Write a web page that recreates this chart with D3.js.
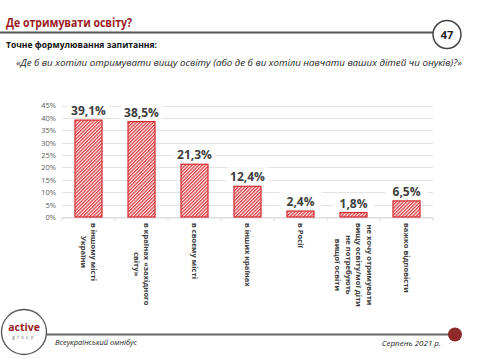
<!DOCTYPE html>
<html><head><meta charset="utf-8">
<script src="https://cdn.jsdelivr.net/npm/d3@7"></script>
<style>
body{margin:0;background:#fff;}
svg{display:block;font-family:"Open Sans","Noto Sans",sans-serif;}
</style></head>
<body><svg id="c" width="478" height="363"></svg>
<script>
const categories = [
  ["в іншому місті","України"],
  ["в країнах «західного","світу»"],
  ["в своєму місті"],
  ["в інших країнах"],
  ["в Росії"],
  ["не хочу отримувати","вищу освіту/мої діти","не потребують","вищої освіти"],
  ["важко відповісти"]
];
const values = [39.1, 38.5, 21.3, 12.4, 2.4, 1.8, 6.5];
const valueLabels = ["39,1%","38,5%","21,3%","12,4%","2,4%","1,8%","6,5%"];
const yTicks = [0,5,10,15,20,25,30,35,40,45];

const svg = d3.select("#c");
const dark = "#404040", red = "#d42a2f", maroon = "#9b1b1f";

// pattern
const defs = svg.append("defs");
const pat = defs.append("pattern").attr("id","hatch").attr("patternUnits","userSpaceOnUse")
  .attr("width",2.4).attr("height",2.4).attr("patternTransform","rotate(45)");
pat.append("rect").attr("width",2.4).attr("height",2.4).attr("fill","#fff");
pat.append("rect").attr("width",1.3).attr("height",2.4).attr("fill","#dd3a3f");

// header
svg.append("text").attr("x",6).attr("y",26.5).attr("fill",maroon).attr("font-weight","bold")
  .attr("font-size",11.5).attr("textLength",126).attr("lengthAdjust","spacingAndGlyphs").text("Де отримувати освіту?");
svg.append("line").attr("x1",0).attr("x2",433).attr("y1",32.5).attr("y2",32.5).attr("stroke","#555").attr("stroke-width",2);
svg.append("circle").attr("cx",447).attr("cy",34.5).attr("r",14).attr("fill","#fff").attr("stroke","#444").attr("stroke-width",1.5);
svg.append("text").attr("x",447).attr("y",38.5).attr("text-anchor","middle").attr("font-weight","bold").attr("font-size",11).attr("fill","#222").text("47");
svg.append("text").attr("x",6).attr("y",48).attr("font-weight","bold").attr("font-size",9)
  .attr("textLength",151).attr("lengthAdjust","spacingAndGlyphs").attr("fill","#111").text("Точне формулювання запитання:");
svg.append("text").attr("x",16).attr("y",66).attr("font-style","italic").attr("font-size",9.2).attr("fill","#222")
  .attr("textLength",446).attr("lengthAdjust","spacingAndGlyphs")
  .text("«Де б ви хотіли отримувати вищу освіту (або де б ви хотіли навчати ваших дітей чи онуків)?»");

// chart
const x = d3.scaleBand().domain(d3.range(categories.length)).range([62,433]).paddingInner(0.49).paddingOuter(0.245);
const y = d3.scaleLinear().domain([0,45]).range([217,105.5]);

const g = svg.append("g");
g.selectAll(".grid").data(yTicks).join("line")
  .attr("x1",62).attr("x2",433).attr("y1",d=>Math.round(y(d))+0.5).attr("y2",d=>Math.round(y(d))+0.5)
  .attr("stroke","#e3e3e3").attr("stroke-width",1);

const yAxis = d3.axisLeft(y).tickValues(yTicks).tickFormat(d=>d+"%").tickSize(0).tickPadding(6);
const ya = g.append("g").attr("transform","translate(62,0)").call(yAxis);
ya.select(".domain").remove();
ya.selectAll("text").attr("font-size",7.5).attr("fill","#595959").attr("font-family","'Open Sans','Noto Sans',sans-serif");

// x axis line and ticks
const xa = g.append("g").attr("transform","translate(0,217.5)")
  .call(d3.axisBottom(x).tickSize(0).tickFormat(""));
xa.select(".domain").attr("stroke","#d9d9d9");
g.selectAll(".xt").data(d3.range(categories.length+1)).join("line")
  .attr("x1",i=>62+i*(371/7)).attr("x2",i=>62+i*(371/7)).attr("y1",217.5).attr("y2",221)
  .attr("stroke","#d9d9d9");

g.selectAll(".bar").data(values).join("rect")
  .attr("x",(d,i)=>x(i)).attr("width",x.bandwidth())
  .attr("y",d=>y(d)).attr("height",d=>y(0)-y(d))
  .attr("fill","url(#hatch)").attr("stroke",red).attr("stroke-width",1.2);

// value labels with white boxes
const lab = g.selectAll(".vl").data(values).join("g")
  .attr("transform",(d,i)=>`translate(${x(i)+x.bandwidth()/2},${y(d)-5})`);
lab.append("rect").attr("x",-21).attr("y",-14).attr("width",42).attr("height",16).attr("fill","#fff");
lab.append("text").attr("text-anchor","middle").attr("font-weight","bold").attr("font-size",12)
  .attr("fill",dark).text((d,i)=>valueLabels[i]);

// category labels rotated
const lineH = 10.5, fs = 7.6;
categories.forEach((lines,i)=>{
  const cx = x(i)+x.bandwidth()/2;
  const tmp = svg.append("text").attr("font-size",fs).attr("font-weight","bold");
  let maxW = 0;
  lines.forEach(l=>{tmp.text(l); maxW = Math.max(maxW, tmp.node().getComputedTextLength());});
  tmp.remove();
  const n = lines.length;
  const grp = g.append("g").attr("transform",`translate(${cx},${223+maxW/2}) rotate(90)`);
  lines.forEach((l,k)=>{
    const off = (k-(n-1)/2)*lineH;
    grp.append("text").attr("x",0).attr("y",off+fs*0.35).attr("text-anchor","middle")
      .attr("font-size",fs).attr("font-weight","bold").attr("fill",dark).text(l);
  });
});

// footer
svg.append("line").attr("x1",46).attr("x2",452).attr("y1",334.5).attr("y2",334.5).attr("stroke","#666").attr("stroke-width",2);
svg.append("circle").attr("cx",455).attr("cy",334.5).attr("r",7).attr("fill","#8f2a2a");
svg.append("circle").attr("cx",24).attr("cy",332).attr("r",22.5).attr("fill","#fff").attr("stroke","#555").attr("stroke-width",1.3);
svg.append("text").attr("x",24).attr("y",331).attr("text-anchor","middle").attr("font-weight","bold").attr("font-size",10.5).attr("fill",maroon).text("active");
svg.append("text").attr("x",24).attr("y",339).attr("text-anchor","middle").attr("font-size",4.5).attr("letter-spacing",2.2).attr("fill","#777").text("group");
svg.append("text").attr("x",55).attr("y",345).attr("font-style","italic").attr("font-size",7.5).attr("fill","#222").text("Всеукраїнський омнібус");
svg.append("text").attr("x",441).attr("y",346).attr("text-anchor","end").attr("font-style","italic").attr("font-size",8).attr("fill","#222").text("Серпень 2021 р.");
</script></body></html>
